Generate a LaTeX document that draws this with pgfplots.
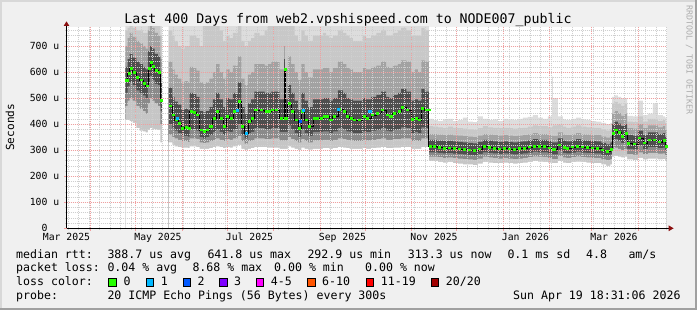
\documentclass[border=0pt]{standalone}
\usepackage{pgfplots}
\pgfplotsset{compat=1.18}
\usepackage{pgfplotstable}
\usepackage{fontspec}
\setmainfont{DejaVu Sans Mono}
\definecolor{bgc}{HTML}{F0F0F0}
\definecolor{shadea}{HTML}{D8D8D8}
\definecolor{shadeb}{HTML}{A0A0A0}
\definecolor{majgrid}{HTML}{F0A0A0}
\definecolor{mingrid}{HTML}{CFCFCF}
\definecolor{arrowc}{HTML}{8B1010}
\definecolor{sA}{HTML}{DDDDDD}
\definecolor{sB}{HTML}{C8C8C8}
\definecolor{sC}{HTML}{A2A2A2}
\definecolor{sD}{HTML}{4E4E4E}
\definecolor{sE}{HTML}{8A8A8A}
\definecolor{sF}{HTML}{C6C6C6}
\definecolor{lc0}{HTML}{26FF00}
\definecolor{lc1}{HTML}{00B8FF}
\definecolor{lc2}{HTML}{0059FF}
\definecolor{lc3}{HTML}{7E00FF}
\definecolor{lc4}{HTML}{FF00FF}
\definecolor{lc6}{HTML}{FF5500}
\definecolor{lc11}{HTML}{FF0000}
\definecolor{lc20}{HTML}{A10000}

\pgfplotstableread{
x mn l2 l1 md h1 h2 h3 mx
39.3 415 470 520 567 620 700 760 800
40.7 415 490 545 595 650 730 770 800
42.0 412 500 560 614 670 750 780 800
44.0 405 490 550 599 655 735 770 800
46.5 385 470 530 578 640 720 760 800
48.7 375 460 520 569 630 710 760 800
50.9 372 450 510 557 620 700 750 800
52.7 368 440 500 546 610 690 750 800
54.2 378 480 560 614 680 760 800 800
55.8 385 500 585 637 700 780 800 800
57.1 382 490 570 621 690 770 800 800
58.7 380 480 555 605 670 750 800 800
60.9 378 470 550 598 660 740 800 800
62.5 330 400 450 490 560 650 740 800
63.5 330 400 450 490 560 650 740 800
}\segA

\pgfplotstableread{
x mn l2 l1 md h1 h2 h3 mx
68.0 330 360 400 470 540 640 760 800
70.5 320 350 385 435 505 610 740 800
72.0 315 345 375 416 486 590 720 800
74.2 312 340 365 403 475 575 700 800
76.5 310 335 355 384 455 560 690 800
78.7 310 335 355 388 460 565 700 800
80.9 308 332 352 384 455 560 700 800
82.0 315 345 380 448 520 620 740 800
84.2 315 345 380 445 515 615 740 800
86.5 312 342 375 435 505 605 730 800
88.7 305 330 350 377 450 560 700 800
90.9 305 328 345 371 445 555 800 800
93.1 305 330 350 377 450 560 800 800
95.3 308 335 358 390 465 575 800 800
97.5 312 340 370 422 495 600 780 800
99.8 315 345 380 448 520 630 800 800
102.0 312 340 370 422 495 600 760 800
104.2 308 335 358 390 465 575 720 800
106.5 312 342 372 429 500 610 740 800
108.7 310 340 370 422 495 600 730 800
110.9 315 345 380 448 520 625 750 800
114.2 320 355 400 486 560 660 780 800
116.5 305 335 358 390 465 575 720 800
118.7 300 325 345 365 440 550 700 800
120.9 305 335 365 409 480 590 720 800
123.1 308 338 370 422 495 600 730 800
125.3 312 345 385 454 525 630 750 800
128.7 312 345 385 454 525 630 740 800
132.0 312 342 380 448 520 625 760 800
134.2 310 342 380 448 520 630 800 800
136.5 310 345 385 454 525 640 800 800
138.7 310 345 385 454 525 640 800 800
142.0 305 338 370 422 495 610 800 800
144.9 305 338 370 422 495 610 780 800
145.1 305 338 370 610 650 700 800 800
145.6 305 338 370 422 495 610 780 800
147.5 315 350 395 480 550 660 800 800
149.8 310 342 380 448 520 630 780 800
152.0 305 335 365 416 490 600 740 800
154.2 300 330 352 384 455 570 720 800
156.5 310 342 380 448 520 630 760 800
158.7 305 335 365 416 490 600 740 800
160.9 302 330 355 390 465 580 720 800
164.2 305 338 370 422 495 610 740 800
166.5 305 338 370 422 495 610 740 800
168.7 305 338 370 422 495 610 740 800
170.9 308 340 372 429 500 615 750 800
173.1 308 340 372 429 500 615 740 800
175.3 305 335 365 416 490 600 730 800
177.5 308 340 372 429 500 615 740 800
180.9 312 345 385 457 530 640 760 800
184.2 310 342 380 448 520 630 750 800
186.5 308 340 372 429 500 615 740 800
188.7 305 338 370 422 495 610 730 800
190.9 305 335 365 416 490 600 720 800
194.2 305 335 365 416 490 600 720 800
197.5 308 340 372 429 500 615 740 800
199.8 305 338 370 422 495 610 730 800
203.1 308 340 375 435 505 620 740 800
206.5 310 342 378 441 512 625 750 800
209.8 312 345 385 454 525 640 760 800
213.1 308 340 375 435 505 620 740 800
215.3 308 340 372 429 500 615 740 800
217.5 310 342 378 441 512 625 750 800
220.9 310 342 380 448 520 630 760 800
223.1 312 345 388 463 535 645 770 800
226.5 312 345 385 454 525 640 760 800
229.8 305 335 365 418 490 600 740 800
232.0 305 338 370 422 495 610 740 800
234.2 305 335 365 416 490 600 740 800
236.5 312 345 388 461 535 645 770 800
238.7 312 345 385 454 525 640 760 800
240.9 312 345 385 454 525 640 760 800
241.5 258 275 292 313 340 362 392 420
244.2 258 275 292 313 340 362 390 415
247.5 255 273 290 310 337 360 388 412
250.9 252 270 288 307 335 358 385 418
254.2 255 272 289 309 336 360 390 420
257.5 250 270 287 307 334 357 386 412
260.9 248 268 286 305 332 356 385 415
264.2 245 266 284 303 330 354 383 425
267.5 245 265 282 300 328 352 380 410
270.9 243 263 280 298 326 350 378 408
274.2 248 268 286 305 332 356 385 430
277.5 255 275 292 313 340 362 392 420
280.9 252 272 290 310 337 360 388 415
284.2 250 270 288 307 334 358 386 418
287.5 250 268 286 305 332 356 385 412
290.9 252 270 288 307 334 358 386 420
294.2 250 268 286 305 332 356 385 418
297.5 248 266 284 303 330 354 383 415
300.9 250 268 286 306 333 356 385 420
304.2 252 270 288 307 334 358 386 425
307.5 255 273 291 312 338 361 390 428
310.9 258 276 294 315 342 365 395 435
314.2 256 275 292 313 340 362 392 425
317.5 255 274 292 313 340 362 392 420
320.9 252 270 288 308 335 358 388 430
323.8 250 266 284 303 330 355 390 582
324.2 250 266 284 303 330 355 395 500
327.5 258 278 298 320 345 368 398 430
330.9 252 272 290 310 337 360 390 418
333.1 250 270 288 307 334 358 386 415
336.5 255 273 291 312 338 361 390 420
339.8 256 276 294 315 342 365 395 425
343.1 255 273 291 312 338 361 390 418
346.5 252 272 290 310 337 360 388 415
349.8 250 270 288 308 335 358 386 412
353.1 250 270 288 307 334 358 386 410
356.5 245 265 282 300 328 352 380 405
359.8 240 262 278 294 322 348 375 400
362.5 245 266 284 303 330 354 383 405
363.8 275 305 335 365 400 440 478 505
365.3 278 310 342 377 410 450 485 510
367.5 275 305 336 367 402 442 478 505
369.8 272 300 328 352 392 432 470 500
372.0 275 305 335 365 400 440 478 500
373.8 265 285 305 326 358 385 410 432
377.5 262 283 303 324 356 383 408 430
380.9 270 292 318 346 375 400 430 490
384.2 265 285 305 327 358 385 410 435
387.5 268 290 312 339 368 395 420 440
390.9 268 290 312 339 368 395 420 480
394.2 265 287 308 331 362 388 412 435
397.5 266 288 310 336 365 392 415 430
399.1 260 280 298 313 350 378 405 425
400.0 260 280 298 313 350 378 405 425
}\segB

\pgfplotsset{smk/.style={const plot, draw=none, fill=#1, forget plot}}
\newcommand\tfont{\fontsize{9.8}{10}\selectfont}
\newcommand\lfont{\fontsize{11.58}{12}\selectfont}

\begin{document}
\begin{tikzpicture}[x=1pt,y=1pt]
\useasboundingbox (0pt,0pt) rectangle (697pt,310pt);
\fill[bgc] (0pt,0pt) rectangle (697pt,310pt);
\fill[shadea] (0pt,0pt) rectangle (2pt,310pt);
\fill[shadea] (0pt,308pt) rectangle (697pt,310pt);
\fill[shadeb] (695pt,0pt) rectangle (697pt,310pt);
\fill[shadeb] (0pt,0pt) rectangle (697pt,2pt);

\begin{axis}[
  at={(66.5pt,81.7pt)}, anchor=origin,
  scale only axis, width=600pt, height=201.3pt,
  xmin=0, xmax=400, ymin=0, ymax=773,
  enlargelimits=false,
  axis background/.style={fill=white},
  axis on top,
  axis lines=left,
  axis line style={-, black, line width=0.9pt},
  xtick={16,46,77,107,138,169,199,230,260,291,322,350,381},
  xticklabels={},
  minor xtick={1,8,...,400},
  extra x ticks={0,61,122,184,245,306,365},
  extra x tick labels={Mar 2025,May 2025,Jul 2025,Sep 2025,Nov 2025,Jan 2026,Mar 2026},
  extra x tick style={grid=none, major tick length=0pt},
  ytick={0,100,...,700},
  yticklabels={0\hphantom{xx},100 u,200 u,300 u,400 u,500 u,600 u,700 u},
  minor ytick={20,40,...,760},
  grid=both,
  major grid style={draw=majgrid, dash pattern=on 1pt off 1pt, line width=0.5pt},
  minor grid style={draw=mingrid, dash pattern=on 1pt off 1pt, line width=0.5pt},
  tick align=outside,
  major tick length=2.5pt,
  minor tick length=1.5pt,
  major tick style={draw=majgrid, line width=0.6pt},
  minor tick style={draw=mingrid, line width=0.6pt},
  xticklabel style={font=\tfont, anchor=base, inner sep=0pt, yshift=-12.7pt},
  yticklabel style={font=\tfont, anchor=east, inner sep=0pt, xshift=-4.5pt},
]
\addplot[smk=sA] table[x=x,y=mx]{\segA} \closedcycle;
\addplot[smk=sB] table[x=x,y=h3]{\segA} \closedcycle;
\addplot[smk=sC] table[x=x,y=h2]{\segA} \closedcycle;
\addplot[smk=sD] table[x=x,y=h1]{\segA} \closedcycle;
\addplot[smk=sE] table[x=x,y=l1]{\segA} \closedcycle;
\addplot[smk=sF] table[x=x,y=l2]{\segA} \closedcycle;
\addplot[smk=white] table[x=x,y=mn]{\segA} \closedcycle;

\addplot[smk=sA] table[x=x,y=mx]{\segB} \closedcycle;
\addplot[smk=sB] table[x=x,y=h3]{\segB} \closedcycle;
\addplot[smk=sC] table[x=x,y=h2]{\segB} \closedcycle;
\addplot[smk=sD] table[x=x,y=h1]{\segB} \closedcycle;
\addplot[smk=sE] table[x=x,y=l1]{\segB} \closedcycle;
\addplot[smk=sF] table[x=x,y=l2]{\segB} \closedcycle;
\addplot[smk=white] table[x=x,y=mn]{\segB} \closedcycle;

\addplot[const plot, black, line width=0.6pt] table[x=x,y=md]{\segA};
\addplot[const plot, black, line width=0.6pt] table[x=x,y=md]{\segB};
\addplot[only marks, mark=-, mark size=1.6pt, mark options={draw=lc0, line width=2.6pt, xshift=1.6pt}, restrict x to domain=0:63] table[x=x,y=md]{\segA};
\addplot[only marks, mark=-, mark size=1.6pt, mark options={draw=lc0, line width=2.6pt, xshift=1.6pt}, restrict x to domain=0:399.5] table[x=x,y=md]{\segB};
\addplot[only marks, mark=-, mark size=1.6pt, mark options={draw=lc1, line width=2.6pt, xshift=1.6pt}] coordinates {(72.7,422) (112.7,452) (119.1,365) (156.9,452) (180.4,457) (201.3,448)};
\addplot[only marks, mark=-, mark size=1.2pt, mark options={draw=lc2, line width=2.6pt, xshift=1.2pt}] coordinates {(155.3,409)};
\end{axis}

% axis arrows
\draw[black, line width=0.9pt] (666pt,81.7pt) -- (669.5pt,81.7pt);
\fill[arrowc] (668.7pt,84.6pt) -- (673.6pt,81.7pt) -- (668.7pt,78.8pt) -- cycle;
\draw[black, line width=0.9pt] (66.5pt,282.5pt) -- (66.5pt,285pt);
\fill[arrowc] (63.6pt,284pt) -- (66.5pt,288.6pt) -- (69.4pt,284pt) -- cycle;

% title and labels
\node[anchor=base, inner sep=0pt, font=\fontsize{13.26}{14}\selectfont] at (348pt,286pt) {Last 400 Days from web2.vpshispeed.com to NODE007\_public};
\node[rotate=90, inner sep=0pt, font=\fontsize{11.1}{12}\selectfont] at (10pt,182.7pt) {Seconds};
\node[rotate=-90, inner sep=0pt, text=black!32, font=\fontsize{8.3}{9}\selectfont] at (689.3pt,250pt) {RRDTOOL / TOBI OETIKER};

% legend rows
\begin{scope}[every node/.style={anchor=base west, inner sep=0pt, font=\lfont}]
\node at (16pt,51.7pt) {median rtt:};
\node at (107.3pt,51.7pt) {388.7 us avg};
\node at (207.3pt,51.7pt) {641.8 us max};
\node at (307.3pt,51.7pt) {292.9 us min};
\node at (407.7pt,51.7pt) {313.3 us now};
\node at (507.3pt,51.7pt) {0.1 ms sd};
\node at (586pt,51.7pt) {4.8};
\node at (628.3pt,51.7pt) {am/s};
\node at (16pt,38pt) {packet loss:};
\node at (107.3pt,38pt) {0.04 \% avg};
\node at (192.3pt,38pt) {8.68 \% max};
\node at (274pt,38pt) {0.00 \% min};
\node at (365pt,38pt) {0.00 \% now};
\node at (16pt,24.3pt) {loss color:};
\node at (123.3pt,24.3pt) {0};
\node at (160.7pt,24.3pt) {1};
\node at (197.3pt,24.3pt) {2};
\node at (234pt,24.3pt) {3};
\node at (270.7pt,24.3pt) {4-5};
\node at (322pt,24.3pt) {6-10};
\node at (380.7pt,24.3pt) {11-19};
\node at (445.7pt,24.3pt) {20/20};
\node at (16pt,10.3pt) {probe:};
\node at (107.3pt,10.3pt) {20 ICMP Echo Pings (56 Bytes) every 300s};
\node[anchor=base east] at (680.7pt,10.3pt) {Sun Apr 19 18:31:06 2026};
\end{scope}
\begin{scope}[line width=0.6pt, draw=black]
\filldraw[fill=lc0] (108.6pt,24.0pt) rectangle (115.9pt,31.4pt);
\filldraw[fill=lc1] (146.0pt,24.0pt) rectangle (153.3pt,31.4pt);
\filldraw[fill=lc2] (183.0pt,24.0pt) rectangle (190.3pt,31.4pt);
\filldraw[fill=lc3] (219.6pt,24.0pt) rectangle (226.9pt,31.4pt);
\filldraw[fill=lc4] (256.3pt,24.0pt) rectangle (263.6pt,31.4pt);
\filldraw[fill=lc6] (307.6pt,24.0pt) rectangle (314.9pt,31.4pt);
\filldraw[fill=lc11] (366.0pt,24.0pt) rectangle (373.3pt,31.4pt);
\filldraw[fill=lc20] (431.0pt,24.0pt) rectangle (438.3pt,31.4pt);
\end{scope}
\end{tikzpicture}
\end{document}
